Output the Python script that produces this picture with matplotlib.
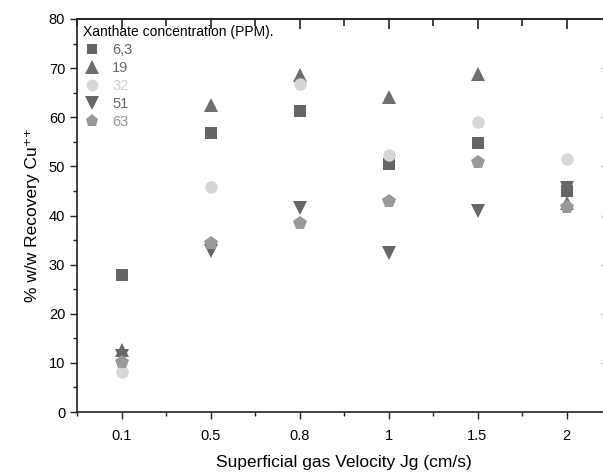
import numpy as np
import matplotlib.pyplot as plt
from matplotlib.ticker import MultipleLocator

plt.rcParams['font.family'] = ['Liberation Sans', 'DejaVu Sans']

# Superficial gas velocity categories
jg_labels = ['0.1', '0.5', '0.8', '1', '1.5', '2']

# % w/w recovery Cu++ for each xanthate concentration
rec_6_3 = [27.9, 56.7, 61.3, 50.5, 54.7, 45.0]
rec_19 = [12.6, 62.5, 68.7, 64.2, 68.9, 42.5]
rec_32 = [8.2, 45.7, 66.8, 52.3, 59.0, 51.6]
rec_51 = [11.3, 32.8, 41.6, 32.4, 41.0, 45.6]
rec_63 = [10.2, 34.5, 38.5, 43.0, 50.8, 41.7]

series = [
    ('6,3', rec_6_3, 's', '#656565', 8),
    ('19', rec_19, '^', '#6e6e6e', 10),
    ('32', rec_32, 'o', '#d6d6d6', 9),
    ('51', rec_51, 'v', '#676767', 10),
    ('63', rec_63, 'p', '#999999', 10),
]

fig = plt.figure(figsize=(6.03, 4.74), dpi=100)
ax = fig.add_axes([77 / 603, 62 / 474, 534 / 603, 393 / 474])

x = np.arange(1, len(jg_labels) + 1)
for label, vals, mk, col, ms in series:
    ax.plot(x, vals, linestyle='none', marker=mk, color=col, markersize=ms,
            markeredgewidth=0, label=label)

ax.set_xlim(0.5, 6.5)
ax.set_ylim(0, 80)
ax.set_xticks(x)
ax.set_xticklabels(jg_labels)
ax.xaxis.set_minor_locator(MultipleLocator(0.5))
ax.yaxis.set_major_locator(MultipleLocator(10))
ax.yaxis.set_minor_locator(MultipleLocator(5))

ax.tick_params(axis='both', which='major', labelsize=10.5, length=5, width=1,
               direction='out', colors='#222222', labelcolor='black')
ax.tick_params(axis='both', which='minor', length=3, width=1, direction='out',
               colors='#222222')
ax.tick_params(axis='x', which='major', pad=7)

for s in ax.spines.values():
    s.set_linewidth(1.2)
    s.set_color('#222222')

# top and right ticks pointing inward, no labels
top = ax.secondary_xaxis('top')
top.set_xticks(x, labels=[])
top.xaxis.set_minor_locator(MultipleLocator(0.5))
top.tick_params(axis='x', which='major', direction='in', length=7.5, width=1.3,
                color='#333333')
top.tick_params(axis='x', which='minor', direction='in', length=5, width=1.3,
                color='#333333')
top.spines['top'].set_linewidth(1.2)
top.spines['top'].set_color('#222222')

right = ax.secondary_yaxis('right')
right.yaxis.set_major_locator(MultipleLocator(10))
right.yaxis.set_minor_locator(MultipleLocator(5))
right.tick_params(axis='y', which='major', direction='in', length=7.3,
                  width=1, labelright=False, color='#bbbbbb')
right.tick_params(axis='y', which='minor', direction='in', length=0,
                  width=1, color='#bbbbbb')

ax.set_xlabel('Superficial gas Velocity Jg (cm/s)', fontsize=12.5, labelpad=9)
ax.set_ylabel('% w/w Recovery Cu\u207a\u207a', fontsize=12.5, labelpad=6)

leg = ax.legend(title='Xanthate concentration (PPM).', loc='upper left',
                frameon=False, fontsize=10.5, title_fontsize=10,
                handletextpad=0.7, labelspacing=0.28, borderpad=0.3,
                borderaxespad=0.1, handlelength=1.3, markerscale=0.95)
leg._legend_box.align = 'left'
for txt, (_, _, _, col, _) in zip(leg.get_texts(), series):
    txt.set_color(col if col != '#d6d6d6' else '#d0d0d0')

fig.savefig('out.png', dpi=100)
